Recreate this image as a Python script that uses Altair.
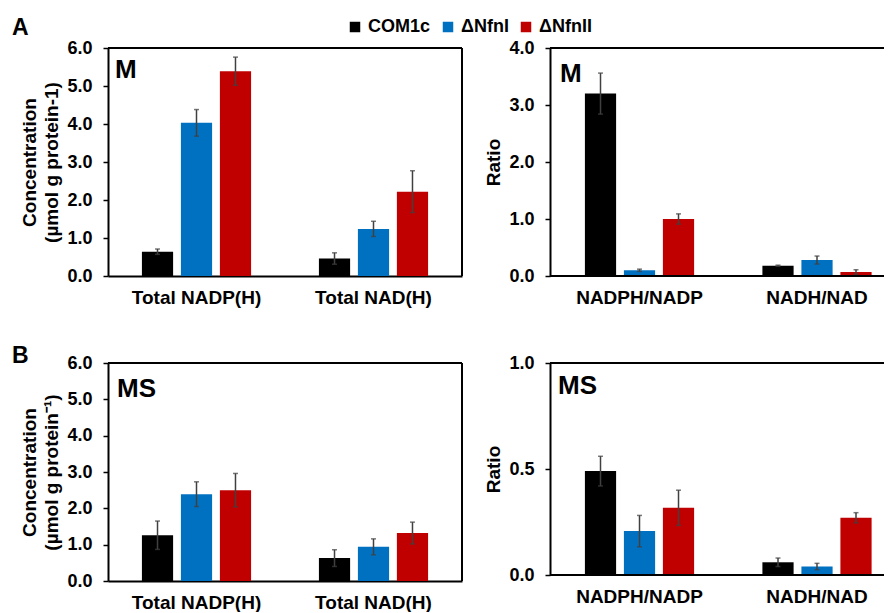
import altair as alt
import pandas as pd

FONT = "Liberation Sans"

series = ["COM1c", "ΔNfnI", "ΔNfnII"]
colors = ["#000000", "#0070C0", "#C00000"]

conc_groups = ["Total NADP(H)", "Total NAD(H)"]
ratio_groups = ["NADPH/NADP", "NADH/NAD"]

# Panel A (M)
a_conc_nadp = [0.64, 4.03, 5.39]
a_conc_nadp_err = [0.07, 0.35, 0.37]
a_conc_nad = [0.46, 1.24, 2.22]
a_conc_nad_err = [0.15, 0.20, 0.55]
a_ratio_nadph = [3.20, 0.10, 1.00]
a_ratio_nadph_err = [0.36, 0.02, 0.09]
a_ratio_nadh = [0.18, 0.28, 0.07]
a_ratio_nadh_err = [0.01, 0.07, 0.04]

# Panel B (MS)
b_conc_nadp = [1.26, 2.39, 2.50]
b_conc_nadp_err = [0.39, 0.34, 0.46]
b_conc_nad = [0.63, 0.94, 1.32]
b_conc_nad_err = [0.23, 0.22, 0.30]
b_ratio_nadph = [0.49, 0.207, 0.317]
b_ratio_nadph_err = [0.07, 0.074, 0.083]
b_ratio_nadh = [0.06, 0.04, 0.27]
b_ratio_nadh_err = [0.02, 0.015, 0.024]


def make_df(groups, v1, e1, v2, e2):
    rows = []
    for g, vals, errs in [(groups[0], v1, e1), (groups[1], v2, e2)]:
        for s, v, e in zip(series, vals, errs):
            rows.append({"group": g, "series": s, "value": v,
                         "lo": v - e, "hi": v + e})
    return pd.DataFrame(rows)


legend = alt.Legend(
    orient="none", legendX=238, legendY=-30, direction="horizontal",
    title=None, symbolType="square", symbolSize=110, symbolStrokeWidth=0,
    labelFont=FONT, labelFontSize=18, labelFontWeight="bold",
    labelColor="black", columnPadding=8, labelOffset=4,
)

ONE = pd.DataFrame({"k": [0]})


def line(x1, x2, y1, y2):
    return alt.Chart(ONE).mark_rule(color="black", strokeWidth=2).encode(
        x=alt.value(x1), x2=alt.value(x2), y=alt.value(y1), y2=alt.value(y2))


def panel(groups, v1, e1, v2, e2, ymax, yvals, ytitle, label, lx, ly,
          width, height, left=True, big=None):
    df = make_df(groups, v1, e1, v2, e2)
    if left:
        xscale = alt.Scale(paddingInner=0, paddingOuter=0)
        xoscale = alt.Scale(paddingInner=0.2, paddingOuter=0.87, align=0.5)
        loff = 0
    else:
        # band layout continues past the cropped right edge
        xscale = alt.Scale(paddingInner=0.1183, paddingOuter=0)
        xoscale = alt.Scale(paddingInner=0.2, paddingOuter=0.6064,
                            align=0.738)
        loff = 11.25
    x = alt.X("group:N", sort=groups, title=None, scale=xscale,
              axis=alt.Axis(labelAngle=0, ticks=False, tickSize=0,
                            labelPadding=12, labelFontSize=19,
                            labelOffset=loff,
                            labelFont=FONT, labelFontWeight="bold",
                            labelColor="black", domain=left,
                            domainColor="black", domainWidth=2))
    xo = alt.XOffset("series:N", sort=series, scale=xoscale)
    yscale = alt.Scale(domain=[0, ymax], nice=False)
    yaxis = alt.Axis(values=yvals, format=".1f", title=ytitle,
                     titleFont=FONT, titleFontSize=19, titleFontWeight="bold",
                     titleColor="black", titlePadding=5, titleLineHeight=22,
                     labelFont=FONT, labelFontSize=18, labelFontWeight="bold",
                     labelColor="black", labelPadding=11, tickSize=5,
                     labelOverlap=False, tickCount=len(yvals),
                     tickWidth=1.5, tickColor="black", domainColor="black",
                     domainWidth=2, grid=False)
    base = alt.Chart(df)
    bars = base.mark_bar().encode(
        x=x, xOffset=xo,
        y=alt.Y("value:Q", scale=yscale, axis=yaxis),
        color=alt.Color("series:N", sort=series,
                        scale=alt.Scale(domain=series, range=colors),
                        legend=legend),
    )
    rule = base.mark_rule(color="#404040", strokeWidth=1.5).encode(
        x=x, xOffset=xo, y=alt.Y("lo:Q", scale=yscale, axis=yaxis),
        y2="hi:Q")
    cap_lo = base.mark_tick(color="#404040", thickness=1.5, size=5).encode(
        x=x, xOffset=xo, y=alt.Y("lo:Q", scale=yscale, axis=yaxis))
    cap_hi = base.mark_tick(color="#404040", thickness=1.5, size=5).encode(
        x=x, xOffset=xo, y=alt.Y("hi:Q", scale=yscale, axis=yaxis))
    lab = alt.Chart(pd.DataFrame({"t": [label]})).mark_text(
        font=FONT, fontSize=26, fontWeight="bold", align="left",
        baseline="top", color="black").encode(
        x=alt.value(lx), y=alt.value(ly), text="t:N")
    layers = [bars, rule, cap_lo, cap_hi, lab, line(0, width, 0, 0)]
    if left:
        layers.append(line(width, width, 0, height))
    else:
        layers.append(line(0, width, height, height))
    if big is not None:
        bl = alt.Chart(pd.DataFrame({"t": [big[0]]})).mark_text(
            font=FONT, fontSize=23, fontWeight="bold", align="left",
            baseline="alphabetic", color="black").encode(
            x=alt.value(big[1]), y=alt.value(big[2]), text="t:N")
        layers.append(bl)
    return alt.layer(*layers).properties(width=width, height=height)


tl = panel(conc_groups, a_conc_nadp, a_conc_nadp_err, a_conc_nad,
           a_conc_nad_err, 6, [0, 1, 2, 3, 4, 5, 6],
           ["Concentration", "(µmol g protein-1)"], "M", 7, 9, 354, 228,
           big=("A", -96, -13))
tr = panel(ratio_groups, a_ratio_nadph, a_ratio_nadph_err, a_ratio_nadh,
           a_ratio_nadh_err, 4, [0, 1, 2, 3, 4], "Ratio", "M", 10, 13,
           334, 228, left=False)
bl = panel(conc_groups, b_conc_nadp, b_conc_nadp_err, b_conc_nad,
           b_conc_nad_err, 6, [0, 1, 2, 3, 4, 5, 6],
           ["Concentration", "(µmol g protein⁻¹)"], "MS", 9, 13, 354, 218,
           big=("B", -96, 0))
br = panel(ratio_groups, b_ratio_nadph, b_ratio_nadph_err, b_ratio_nadh,
           b_ratio_nadh_err, 1, [0, 0.5, 1], "Ratio", "MS", 8, 10,
           334, 212, left=False)

chart = alt.concat(
    tl, tr, bl, br, columns=2, bounds="flush", center=True,
    spacing={"row": 87, "column": 88},
).properties(
    padding={"left": 4, "top": 9, "right": 0, "bottom": 0},
    background="white",
).configure_view(stroke=None).resolve_scale(
    color="shared", xOffset="independent", x="independent")

chart.save("out.html", embed_options={"renderer": "svg", "actions": False})
